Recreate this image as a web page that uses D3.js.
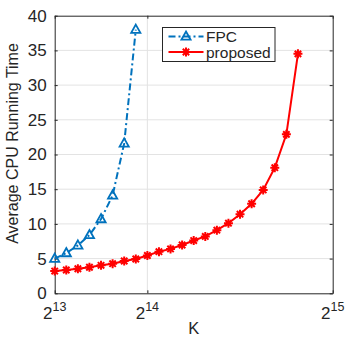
<!DOCTYPE html>
<html>
<head>
<meta charset="utf-8">
<script src="https://cdn.jsdelivr.net/npm/d3@7"></script>
<style>
body { margin: 0; background: #fff; }
text { font-family: "Liberation Sans", Arial, sans-serif; fill: #262626; }
</style>
</head>
<body>
<script>
// data
const fpcK = [8192, 9216, 10240, 11264, 12288, 13312, 14336, 15360];
const fpcTime = [5.0, 5.8, 6.9, 8.4, 10.7, 14.1, 21.6, 38.0];
const propK = [8192, 9216, 10240, 11264, 12288, 13312, 14336, 15360, 16384, 17408, 18432,
  19456, 20480, 21504, 22528, 23552, 24576, 25600, 26624, 27648, 28672, 29696];
const propTime = [3.2, 3.36, 3.54, 3.75, 4.03, 4.27, 4.65, 4.94, 5.45, 6.0, 6.4,
  6.96, 7.6, 8.2, 9.1, 10.1, 11.4, 12.9, 14.9, 18.1, 22.9, 34.5];
const xTicks = [8192, 16384, 32768];
const xTickExp = ["13", "14", "15"];
const yTicks = [0, 5, 10, 15, 20, 25, 30, 35, 40];

const w = 346, h = 338;
const margin = {top: 15.7, right: 13.3, bottom: 44.7, left: 54.7};
const width = w - margin.left - margin.right, height = h - margin.top - margin.bottom;

const svg = d3.select("body").append("svg").attr("width", w).attr("height", h);
const g = svg.append("g").attr("transform", "translate(" + margin.left + "," + margin.top + ")");

const xScale = d3.scaleLinear().domain([8192, 32768]).range([0, width]);
const yScale = d3.scaleLinear().domain([0, 40]).range([height, 0]);

// grid
g.selectAll(".gy").data(yTicks.slice(1, -1)).enter().append("line")
  .attr("x1", 0).attr("x2", width)
  .attr("y1", d => yScale(d)).attr("y2", d => yScale(d))
  .attr("stroke", "#e3e3e3").attr("stroke-width", 1);
g.selectAll(".gx").data(xTicks.slice(1, -1)).enter().append("line")
  .attr("y1", 0).attr("y2", height)
  .attr("x1", d => xScale(d)).attr("x2", d => xScale(d))
  .attr("stroke", "#e3e3e3").attr("stroke-width", 1);

// axes
const yAxis = g.append("g").call(d3.axisLeft(yScale).tickValues(yTicks).tickSizeInner(-3).tickSizeOuter(0).tickPadding(8));
yAxis.selectAll("text").attr("font-size", "17px").attr("fill", "#262626");
const yAxisR = g.append("g").attr("transform", "translate(" + width + ",0)")
  .call(d3.axisRight(yScale).tickValues(yTicks).tickSizeInner(-3).tickSizeOuter(0).tickFormat(""));
const xAxis = g.append("g").attr("transform", "translate(0," + height + ")")
  .call(d3.axisBottom(xScale).tickValues(xTicks).tickSizeInner(-3).tickSizeOuter(0).tickFormat(""));
const xAxisT = g.append("g")
  .call(d3.axisTop(xScale).tickValues(xTicks).tickSizeInner(-3).tickSizeOuter(0).tickFormat(""));
[yAxis, yAxisR, xAxis, xAxisT].forEach(a => {
  a.select(".domain").attr("stroke", "#262626");
  a.selectAll(".tick line").attr("stroke", "#262626");
});

// x tick labels 2^n
const xl = g.selectAll(".xl").data(xTicks).enter().append("text")
  .attr("x", d => xScale(d)).attr("y", height + 26)
  .attr("text-anchor", "middle").attr("font-size", "17px");
xl.append("tspan").text("2");
xl.append("tspan").attr("dy", -8).attr("font-size", "12.5px").text((d, i) => xTickExp[i]);

// axis titles
g.append("text").attr("x", width / 2).attr("y", height + 40.5)
  .attr("text-anchor", "middle").attr("font-size", "16.5px").text("K");
g.append("text").attr("transform", "translate(-37," + (height / 2 - 11) + ") rotate(-90)")
  .attr("text-anchor", "middle").attr("font-size", "16px").text("Average CPU Running Time");

const blue = "#0072BD", red = "#FF0000";
const triPath = "M0,-5L4.6,3.2L-4.6,3.2Z";
const starPath = "M-4.5,0H4.5M0,-4.5V4.5M-3.2,-3.2L3.2,3.2M-3.2,3.2L3.2,-3.2";

const line = d3.line().x(d => xScale(d[0])).y(d => yScale(d[1]));
const fpcData = fpcK.map((k, i) => [k, fpcTime[i]]);
const propData = propK.map((k, i) => [k, propTime[i]]);

g.append("path").datum(propData).attr("d", line)
  .attr("fill", "none").attr("stroke", red).attr("stroke-width", 2);
g.selectAll(".star").data(propData).enter().append("path")
  .attr("transform", d => "translate(" + xScale(d[0]) + "," + yScale(d[1]) + ")")
  .attr("d", starPath).attr("stroke", red).attr("stroke-width", 2).attr("fill", "none");

g.append("path").datum(fpcData).attr("d", line)
  .attr("fill", "none").attr("stroke", blue).attr("stroke-width", 2)
  .attr("stroke-dasharray", "7,3,2,3");
g.selectAll(".tri").data(fpcData).enter().append("path")
  .attr("transform", d => "translate(" + xScale(d[0]) + "," + yScale(d[1]) + ")")
  .attr("d", triPath).attr("stroke", blue).attr("stroke-width", 1.8).attr("fill", "none");

// legend
const lg = svg.append("g").attr("transform", "translate(162.5,27.5)");
lg.append("rect").attr("width", 112.5).attr("height", 34)
  .attr("fill", "#fff").attr("stroke", "#262626").attr("stroke-width", 1);
const legendItems = [
  {name: "FPC", color: blue, dash: "7,3,2,3", mark: triPath, sw: 1.8},
  {name: "proposed", color: red, dash: null, mark: starPath, sw: 2}
];
legendItems.forEach((it, i) => {
  const y = 9 + i * 15.5;
  lg.append("line").attr("x1", 6).attr("x2", 41).attr("y1", y).attr("y2", y)
    .attr("stroke", it.color).attr("stroke-width", 2).attr("stroke-dasharray", it.dash);
  lg.append("path").attr("transform", "translate(23.5," + y + ")").attr("d", it.mark)
    .attr("stroke", it.color).attr("stroke-width", it.sw).attr("fill", "none");
  lg.append("text").attr("x", 43.5).attr("y", y + 5.5).attr("font-size", "15.5px").attr("fill", "#000").text(it.name);
});
</script>
</body>
</html>
